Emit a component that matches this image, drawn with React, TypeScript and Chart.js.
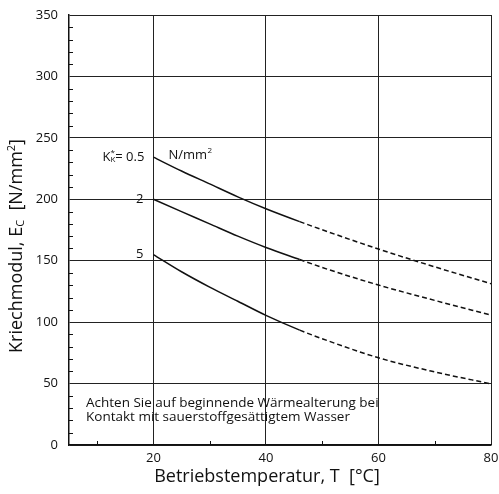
import React, { useEffect, useRef } from "react";
import { Chart, registerables } from "chart.js";

Chart.register(...registerables);

const xValues = [20, 25, 30, 35, 40, 46, 50, 60, 70, 80];
const modulus05 = [234.3, 223, 212.5, 202, 192.3, 181.8, 175.2, 159.5, 145, 131.3];
const modulus2 = [200, 190, 180, 170, 160.8, 151, 144.5, 130.2, 117.7, 105.7];
const modulus5 = [155, 141, 128.5, 117, 105.5, 93.5, 86.5, 71, 59.5, 49.8];
const curveNames = ["0.5", "2", "5"];
const solidLimit = 46;
const xTicks = [20, 40, 60, 80];
const xMinorTicks = [10, 30, 50, 70];
const yTicks = [0, 50, 100, 150, 200, 250, 300, 350];
const xTitle = "Betriebstemperatur, T  [°C]";
const noteLines = [
  "Achten Sie auf beginnende Wärmealterung bei",
  "Kontakt mit sauerstoffgesättigtem Wasser",
];

const FONT = "'Open Sans', 'Noto Sans', sans-serif";

const overlayPlugin = {
  id: "overlay",
  afterDraw(chart: any) {
    const { ctx, chartArea } = chart;
    const xs = chart.scales.x;
    const ys = chart.scales.y;
    ctx.save();
    // minor ticks
    ctx.strokeStyle = "#111";
    ctx.lineWidth = 1;
    for (let v = 10; v < 350; v += 10) {
      if (v % 50 === 0) continue;
      const y = Math.round(ys.getPixelForValue(v)) + 0.5;
      ctx.beginPath();
      ctx.moveTo(chartArea.left, y);
      ctx.lineTo(chartArea.left + 4, y);
      ctx.stroke();
    }
    for (const v of xMinorTicks) {
      const x = Math.round(xs.getPixelForValue(v)) + 0.5;
      ctx.beginPath();
      ctx.moveTo(x, chartArea.bottom);
      ctx.lineTo(x, chartArea.bottom - 4);
      ctx.stroke();
    }
    ctx.fillStyle = "#111";
    ctx.textBaseline = "middle";
    // tick labels
    ctx.font = `13px ${FONT}`;
    ctx.textAlign = "right";
    for (const v of yTicks) {
      ctx.fillText(String(v), chartArea.left - 11, ys.getPixelForValue(v));
    }
    ctx.textAlign = "center";
    for (const v of xTicks) {
      ctx.fillText(String(v), xs.getPixelForValue(v), chartArea.bottom + 13);
    }
    ctx.font = `13px ${FONT}`;
    const x20 = xs.getPixelForValue(xValues[0]);
    // curve labels
    const starts = [modulus05[0], modulus2[0], modulus5[0]];
    curveNames.forEach((name, i) => {
      const y = ys.getPixelForValue(starts[i]);
      ctx.textAlign = "right";
      if (i === 0) {
        const rest = "= " + name;
        const wRest = ctx.measureText(rest).width;
        let right = x20 - 9;
        ctx.fillText(rest, right, y);
        right -= wRest;
        ctx.font = `8px ${FONT}`;
        const wSub = ctx.measureText("K").width;
        ctx.fillText("K", right, y + 3);
        ctx.fillText("*", right - wSub + ctx.measureText("*").width, y - 4);
        right -= wSub;
        ctx.font = `13px ${FONT}`;
        ctx.fillText("K", right, y);
        ctx.textAlign = "left";
        ctx.fillText("N/mm", x20 + 15, y - 2);
        const w = ctx.measureText("N/mm").width;
        ctx.font = `8px ${FONT}`;
        ctx.fillText("2", x20 + 15 + w + 0.5, y - 6);
        ctx.font = `13px ${FONT}`;
      } else {
        ctx.fillText(name, x20 - 10, y);
      }
    });
    // note
    ctx.textAlign = "left";
    ctx.font = `13.5px ${FONT}`;
    ctx.fillText(noteLines[0], chartArea.left + 17, 403);
    ctx.fillText(noteLines[1], chartArea.left + 17, 417);
    // x title
    ctx.font = `18px ${FONT}`;
    ctx.textAlign = "center";
    ctx.fillText(xTitle, 267, 477);
    // y title rich text
    ctx.translate(17, 246);
    ctx.rotate(-Math.PI / 2);
    const parts = [
      { t: "Kriechmodul, E", s: 18, dy: 0 },
      { t: "C", s: 11, dy: 4 },
      { t: "  [N/mm", s: 18, dy: 0 },
      { t: "2", s: 11, dy: -5 },
      { t: "]", s: 18, dy: 0 },
    ];
    let total = 0;
    for (const p of parts) {
      ctx.font = `${p.s}px ${FONT}`;
      total += ctx.measureText(p.t).width;
    }
    let cx = -total / 2;
    ctx.textAlign = "left";
    for (const p of parts) {
      ctx.font = `${p.s}px ${FONT}`;
      ctx.fillText(p.t, cx, p.dy);
      cx += ctx.measureText(p.t).width;
    }
    ctx.restore();
  },
};

function makeDataset(values: number[]) {
  return {
    data: xValues.map((x, i) => ({ x, y: values[i] })),
    borderColor: "#111",
    borderWidth: 1.5,
    pointRadius: 0,
    fill: false,
    cubicInterpolationMode: "monotone" as const,
    segment: {
      borderDash: (c: any) => (c.p0.parsed.x >= solidLimit ? [5, 3] : undefined),
    },
  };
}

export default function App() {
  const ref = useRef<HTMLCanvasElement | null>(null);
  useEffect(() => {
    if (!ref.current) return;
    const chart = new Chart(ref.current, {
      type: "line",
      data: {
        datasets: [makeDataset(modulus05), makeDataset(modulus2), makeDataset(modulus5)],
      },
      options: {
        animation: false,
        responsive: false,
        maintainAspectRatio: false,
        layout: { padding: { top: 15, right: 8, left: 0, bottom: 0 } },
        plugins: { legend: { display: false }, tooltip: { enabled: false } },
        scales: {
          x: {
            type: "linear",
            min: 5,
            max: 80,
            afterBuildTicks: (s: any) => {
              s.ticks = xTicks.map((v) => ({ value: v }));
            },
            afterFit: (s: any) => {
              s.height = 49;
            },
            grid: { color: "#222", lineWidth: 1, drawTicks: false },
            border: { color: "#111", width: 1.5 },
            ticks: { display: false },
          },
          y: {
            type: "linear",
            min: 0,
            max: 350,
            afterBuildTicks: (s: any) => {
              s.ticks = yTicks.map((v) => ({ value: v }));
            },
            afterFit: (s: any) => {
              s.width = 69;
            },
            grid: { color: "#222", lineWidth: 1, drawTicks: false },
            border: { color: "#111", width: 1.5 },
            ticks: { display: false },
          },
        },
      },
      plugins: [overlayPlugin],
    });
    return () => chart.destroy();
  }, []);
  return (
    <div style={{ position: "fixed", left: 0, top: 0, width: 499, height: 494, background: "#fff" }}>
      <canvas ref={ref} width={499} height={494} style={{ width: 499, height: 494 }} />
    </div>
  );
}
